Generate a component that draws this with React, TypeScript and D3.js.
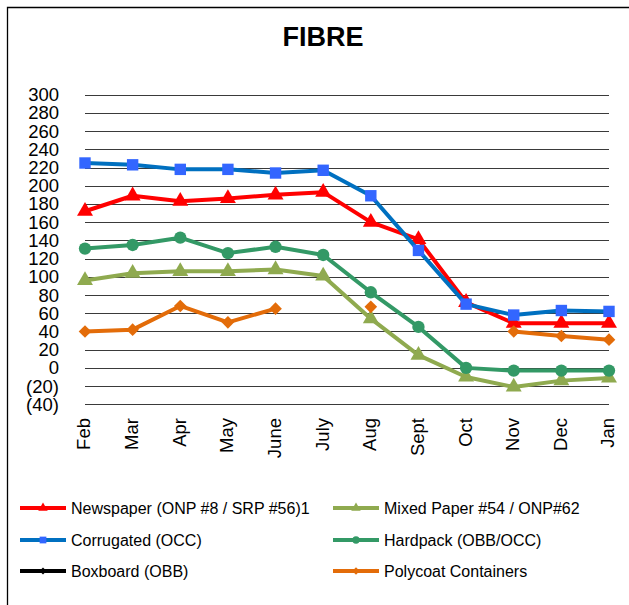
import React, { useEffect, useRef } from 'react';
import * as d3 from 'd3';

const months = ['Feb', 'Mar', 'Apr', 'May', 'June', 'July', 'Aug', 'Sept', 'Oct', 'Nov', 'Dec', 'Jan'];
const yTicks = [300, 280, 260, 240, 220, 200, 180, 160, 140, 120, 100, 80, 60, 40, 20, 0, -20, -40];

const newspaper = [172, 189, 183, 186, 190, 193, 160, 141, 72, 49, 49, 49];
const mixedPaper = [96, 104, 106, 106, 108, 101, 54, 14, -10, -21, -14, -11];
const corrugated = [225, 223, 218, 218, 214, 217, 189, 129, 70, 58, 63, 62];
const hardpack = [131, 135, 143, 126, 133, 124, 83, 45, 0, -3, -3, -3];
const boxboard: (number | null)[] = months.map(() => null);
const polycoat = [40, 42, 68, 50, 65, null, 67, null, null, 40, 35, 31];

const seriesNames = [
  'Newspaper (ONP #8 / SRP #56)1',
  'Mixed Paper #54 / ONP#62',
  'Corrugated (OCC)',
  'Hardpack (OBB/OCC)',
  'Boxboard (OBB)',
  'Polycoat Containers',
];

// square diamond (d3's symbolDiamond is stretched)
const squareDiamond: d3.SymbolType = {
  draw(ctx, size) {
    const r = Math.sqrt(size / 2);
    ctx.moveTo(0, -r);
    ctx.lineTo(r, 0);
    ctx.lineTo(0, r);
    ctx.lineTo(-r, 0);
    ctx.closePath();
  },
};

type Series = {
  name: string;
  values: (number | null)[];
  line: string;
  marker: string;
  symbol: d3.SymbolType;
  size: number;
};

const series: Series[] = [
  { name: seriesNames[0], values: newspaper, line: '#ff0000', marker: '#ff0000', symbol: d3.symbolTriangle, size: 110 },
  { name: seriesNames[1], values: mixedPaper, line: '#8faa4f', marker: '#8faa4f', symbol: d3.symbolTriangle, size: 110 },
  { name: seriesNames[2], values: corrugated, line: '#0070c0', marker: '#3366ff', symbol: d3.symbolSquare, size: 130 },
  { name: seriesNames[3], values: hardpack, line: '#339966', marker: '#339966', symbol: d3.symbolCircle, size: 120 },
  { name: seriesNames[4], values: boxboard, line: '#000000', marker: '#000000', symbol: squareDiamond, size: 70 },
  { name: seriesNames[5], values: polycoat, line: '#e36c09', marker: '#e36c09', symbol: squareDiamond, size: 80 },
];

const W = 629;
const H = 605;

export default function App() {
  const ref = useRef<SVGSVGElement>(null);

  useEffect(() => {
    const svg = d3.select(ref.current);
    svg.selectAll('*').remove();
    const font = 'Arial, "Liberation Sans", sans-serif';

    // chart frame (top and left edges only visible)
    svg.append('path')
      .attr('d', `M7.5,${H} V7.5 H${W}`)
      .attr('fill', 'none')
      .attr('stroke', '#000')
      .attr('stroke-width', 1.3);

    svg.append('text')
      .attr('x', 323)
      .attr('y', 46)
      .attr('text-anchor', 'middle')
      .attr('font-family', font)
      .attr('font-weight', 'bold')
      .attr('font-size', 27)
      .text('FIBRE');

    const x = d3.scalePoint<string>().domain(months).range([85, 609]);
    const y = d3.scaleLinear().domain([-40, 300]).range([404.3, 94.7]);

    // gridlines
    svg.append('g')
      .selectAll('line')
      .data(yTicks)
      .join('line')
      .attr('x1', 85)
      .attr('x2', 609)
      .attr('y1', d => Math.round(y(d)) + 0.5)
      .attr('y2', d => Math.round(y(d)) + 0.5)
      .attr('stroke', '#3a3a3a')
      .attr('stroke-width', 1.2);

    // y labels
    svg.append('g')
      .selectAll('text')
      .data(yTicks)
      .join('text')
      .attr('x', 59)
      .attr('y', d => y(d))
      .attr('dy', '0.35em')
      .attr('text-anchor', 'end')
      .attr('font-family', font)
      .attr('font-size', 18.5)
      .text(d => (d < 0 ? `(${-d})` : `${d}`));

    // x labels, rotated
    svg.append('g')
      .selectAll('text')
      .data(months)
      .join('text')
      .attr('transform', d => `translate(${(x(d) as number) - 1},418) rotate(-90)`)
      .attr('dy', '0.35em')
      .attr('text-anchor', 'end')
      .attr('font-family', font)
      .attr('font-size', 18.5)
      .text(d => d);

    // series
    series.forEach(s => {
      const pts = s.values.map((v, i) => ({ m: months[i], v }));
      const line = d3.line<{ m: string; v: number | null }>()
        .defined(d => d.v !== null)
        .x(d => x(d.m) as number)
        .y(d => y(d.v as number));
      const g = svg.append('g');
      g.append('path')
        .datum(pts)
        .attr('d', line)
        .attr('fill', 'none')
        .attr('stroke', s.line)
        .attr('stroke-width', 4)
        .attr('stroke-linejoin', 'round');
      g.selectAll('path.mk')
        .data(pts.filter(d => d.v !== null))
        .join('path')
        .attr('class', 'mk')
        .attr('transform', d => `translate(${x(d.m)},${y(d.v as number)})`)
        .attr('d', d3.symbol().type(s.symbol).size(s.size)())
        .attr('fill', s.marker);
    });

    // legend
    const rows = [508, 540, 571];
    const cols = [20, 333];
    const leg = svg.append('g');
    series.forEach((s, i) => {
      const cx = cols[i % 2];
      const cy = rows[Math.floor(i / 2)];
      leg.append('line')
        .attr('x1', cx)
        .attr('x2', cx + 46)
        .attr('y1', cy)
        .attr('y2', cy)
        .attr('stroke', s.line)
        .attr('stroke-width', 4);
      leg.append('path')
        .attr('transform', `translate(${cx + 23},${cy})`)
        .attr('d', d3.symbol().type(s.symbol).size(s.size * 0.35)())
        .attr('fill', s.marker);
      leg.append('text')
        .attr('x', cx + 51)
        .attr('y', cy)
        .attr('dy', '0.35em')
        .attr('font-family', font)
        .attr('font-size', 16)
        .text(s.name);
    });
  }, []);

  return (
    <svg
      ref={ref}
      width={W}
      height={H}
      style={{ position: 'absolute', left: 0, top: 0, background: '#fff' }}
    />
  );
}
